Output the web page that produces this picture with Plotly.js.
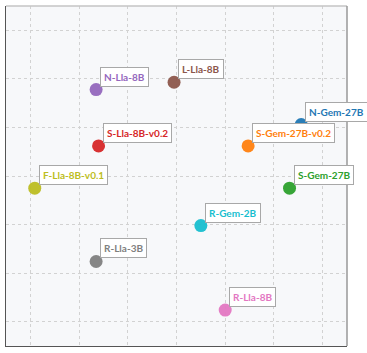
<!DOCTYPE html>
<html>
<head>
<meta charset="utf-8">
<script src="https://cdn.plot.ly/plotly-3.0.1.min.js"></script>
<style>
  html, body { margin: 0; padding: 0; background: #fff; }
  #chart { width: 367px; height: 353px; }
</style>
</head>
<body>
<div id="chart"></div>
<script>
// model names, positions and colours
var models = ['N-Lla-8B', 'L-Lla-8B', 'S-Lla-8B-v0.2', 'F-Lla-8B-v0.1', 'N-Gem-27B',
              'S-Gem-27B-v0.2', 'S-Gem-27B', 'R-Gem-2B', 'R-Lla-3B', 'R-Lla-8B'];
var xs = [1.35, 2.95, 1.40, 0.09, 5.56, 4.47, 5.32, 3.50, 1.35, 4.00];
var ys = [4.78, 4.93, 3.62, 2.75, 4.06, 3.62, 2.75, 1.98, 1.24, 0.24];
var colors = ['#9467bd', '#8c564b', '#d62728', '#bcbd22', '#1f77b4',
              '#ff7f0e', '#2ca02c', '#17becf', '#7f7f7f', '#e377c2'];

var trace = {
  x: xs,
  y: ys,
  mode: 'markers',
  type: 'scatter',
  marker: { size: 13, color: colors, opacity: 0.95 },
  hoverinfo: 'text',
  text: models,
  cliponaxis: false
};

var annotations = models.map(function (m, i) {
  return {
    x: xs[i], y: ys[i], xref: 'x', yref: 'y',
    text: '<b>' + m + '</b>',
    showarrow: false,
    xanchor: 'left', yanchor: 'bottom',
    xshift: 4, yshift: 3,
    font: { family: 'Lato, sans-serif', size: 10, color: colors[i] },
    bgcolor: '#ffffff',
    bordercolor: '#a8a8a8',
    borderwidth: 1,
    borderpad: 3
  };
});

var axis = {
  range: [-0.5, 6.5],
  dtick: 1,
  tick0: 0,
  showticklabels: false,
  ticks: '',
  showgrid: true,
  gridcolor: '#d2d2d2',
  griddash: '3px,3px',
  gridwidth: 1,
  zeroline: false,
  showline: true,
  linecolor: '#555555',
  linewidth: 1
};

var layout = {
  width: 367,
  height: 353,
  margin: { l: 6, r: 20, t: 6, b: 7 },
  paper_bgcolor: '#ffffff',
  plot_bgcolor: '#f7f8fa',
  showlegend: false,
  xaxis: axis,
  yaxis: Object.assign({}, axis),
  annotations: annotations,
  shapes: [
    { type: 'line', xref: 'paper', yref: 'paper', x0: 0, x1: 1, y0: 1, y1: 1,
      line: { color: '#c4c4c4', width: 1.5 } },
    { type: 'line', xref: 'paper', yref: 'paper', x0: 1, x1: 1, y0: 0, y1: 1,
      line: { color: '#999999', width: 1.5 } }
  ]
};

Plotly.newPlot('chart', [trace], layout, { displayModeBar: false, staticPlot: true });
</script>
</body>
</html>
